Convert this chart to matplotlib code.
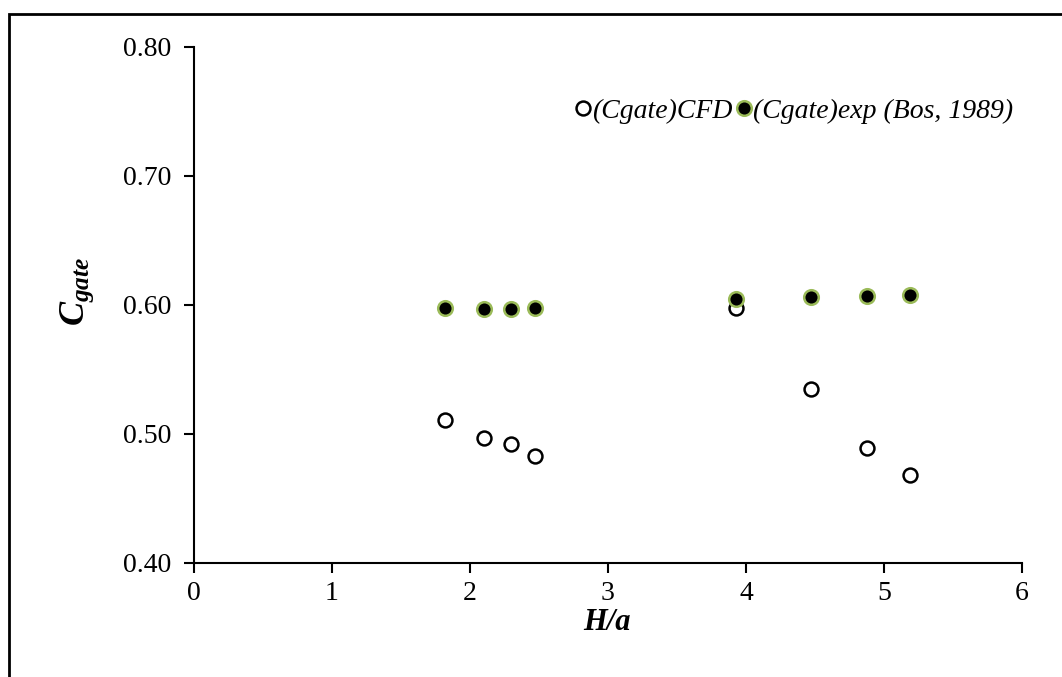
import matplotlib.pyplot as plt
from matplotlib.patches import Rectangle

plt.rcParams['font.family'] = ['Liberation Serif', 'DejaVu Serif']
plt.rcParams['mathtext.fontset'] = 'custom'
plt.rcParams['mathtext.it'] = 'Liberation Serif:italic:bold'
plt.rcParams['mathtext.bf'] = 'Liberation Serif:bold'
plt.rcParams['mathtext.rm'] = 'Liberation Serif'

# data
h_a = [1.82, 2.10, 2.30, 2.47, 3.93, 4.47, 4.88, 5.19]
c_cfd = [0.511, 0.497, 0.492, 0.483, 0.598, 0.535, 0.489, 0.468]
c_exp = [0.598, 0.597, 0.597, 0.598, 0.605, 0.606, 0.607, 0.608]
xticks = [0, 1, 2, 3, 4, 5, 6]
yticks = [0.40, 0.50, 0.60, 0.70, 0.80]

fig = plt.figure(figsize=(10.62, 6.77), dpi=100)
ax = fig.add_axes([0.1827, 0.1684, 0.7796, 0.7622])

# outer frame (cut off at right and bottom)
fig.patches.append(Rectangle((9/1062, -0.05), 1.2, 1 - 14/677 + 0.05,
                             transform=fig.transFigure, fill=False,
                             edgecolor='black', lw=2))

ax.plot(h_a, c_cfd, 'o', ms=10, mfc='white', mec='black', mew=1.8,
        label='(Cgate)CFD')
ax.plot(h_a, c_exp, 'o', ms=10.5, mfc='black', mec='#9BBB59', mew=1.8,
        label='(Cgate)exp (Bos, 1989)')

ax.set_xlim(0, 6)
ax.set_ylim(0.40, 0.80)
ax.set_xticks(xticks)
ax.set_yticks(yticks)
ax.set_xticklabels([str(t) for t in xticks])
ax.set_yticklabels(['%.2f' % t for t in yticks])
ax.tick_params(labelsize=20, direction='out', length=7, width=1.5, pad=6)
ax.tick_params(axis='y', pad=9.5)
for s in ['top', 'right']:
    ax.spines[s].set_visible(False)
for s in ['left', 'bottom']:
    ax.spines[s].set_linewidth(1.5)

fig.text(607/1062, 1 - 622/677, 'H/a', fontsize=22, fontweight='bold',
         fontstyle='italic', ha='center', va='center')
fig.text(77/1062, 1 - 291/677, r'$\mathit{C}_{\mathit{gate}}$', fontsize=26,
         rotation=90, ha='center', va='center')

leg = ax.legend(loc='center right', bbox_to_anchor=(1027/1062, 1 - 111/677),
                bbox_transform=fig.transFigure, ncol=2, frameon=False,
                handletextpad=0.05, columnspacing=0.15, handlelength=0.55,
                borderpad=0, prop={'size': 20, 'style': 'italic'})

fig.savefig('out.png', dpi=100)
